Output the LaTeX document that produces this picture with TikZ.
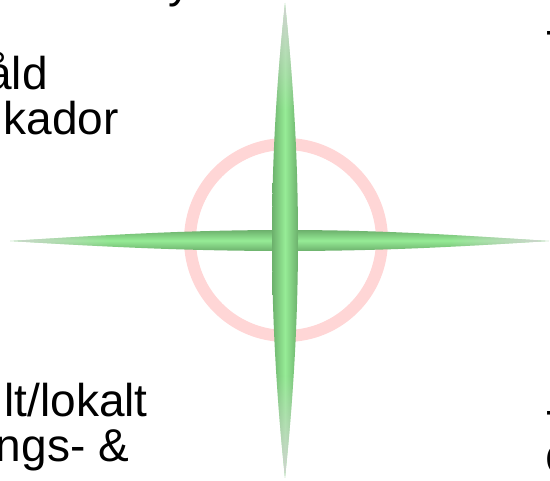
\documentclass[tikz,border=0pt]{standalone}
\usepackage{fontspec}
\setmainfont{Liberation Sans}
\usetikzlibrary{fadings}

\definecolor{ringpink}{RGB}{255,214,214}
\definecolor{armlight}{RGB}{150,236,150}
\definecolor{armdark}{RGB}{108,176,108}
\definecolor{tipgray}{RGB}{210,210,210}

\tikzfading[name=fadedown, top color=transparent!0, bottom color=transparent!100]
\tikzfading[name=fadeup, top color=transparent!100, bottom color=transparent!0]
\tikzfading[name=faderight, left color=transparent!0, right color=transparent!100]
\tikzfading[name=fadeleft, left color=transparent!100, right color=transparent!0]

\newcommand{\vertarm}{(285,3) .. controls (291,60) and (298,140) .. (298,239)
  .. controls (298,338) and (291,420) .. (285,478)
  .. controls (279,420) and (272,338) .. (272,239)
  .. controls (272,140) and (279,60) .. (285,3) -- cycle}
\newcommand{\horarm}{(10,241) .. controls (90,236) and (180,230) .. (285,230)
  .. controls (390,230) and (470,236) .. (549,241)
  .. controls (470,246) and (390,251) .. (285,251)
  .. controls (180,251) and (90,246) .. (10,241) -- cycle}

\begin{document}
\begin{tikzpicture}[x=1pt,y=-1pt,
    lbl/.style={font=\fontsize{46}{46}\selectfont,inner sep=0pt}]
  \useasboundingbox (0,0) rectangle (550,481);
  \clip (0,0) rectangle (550,481);

  \draw[ringpink,line width=12pt] (286,240) circle[radius=96];

  \shade[top color=armdark,bottom color=armdark,middle color=armlight] \horarm;
  \begin{scope}
    \clip \horarm;
    \fill[tipgray,path fading=faderight] (0,225) rectangle (110,257);
    \fill[tipgray,path fading=fadeleft] (450,225) rectangle (550,257);
  \end{scope}

  \shade[left color=armdark,right color=armdark,middle color=armlight] \vertarm;
  \begin{scope}
    \clip \vertarm;
    \fill[tipgray,path fading=fadedown] (268,0) rectangle (302,110);
    \fill[tipgray,path fading=fadeup] (268,375) rectangle (302,481);
  \end{scope}

  \node[lbl,anchor=base west] (topy) at (168,-2) {y};
  \node[lbl,anchor=base east] (vald) at (48,90) {åld};
  \node[lbl,anchor=base east] (skador) at (119,135) {kador};
  \node[lbl,anchor=base east] (globalt) at (148,417) {lt/lokalt};
  \node[lbl,anchor=base east] (ngs) at (129,462) {ngs- \&};
  \node[lbl,anchor=base west] (dashtop) at (545,46) {-};
  \node[lbl,anchor=base west] (dashlow) at (545,426) {-};
  \node[lbl,anchor=base west] (roundlow) at (545,476) {O};
\end{tikzpicture}
\end{document}
